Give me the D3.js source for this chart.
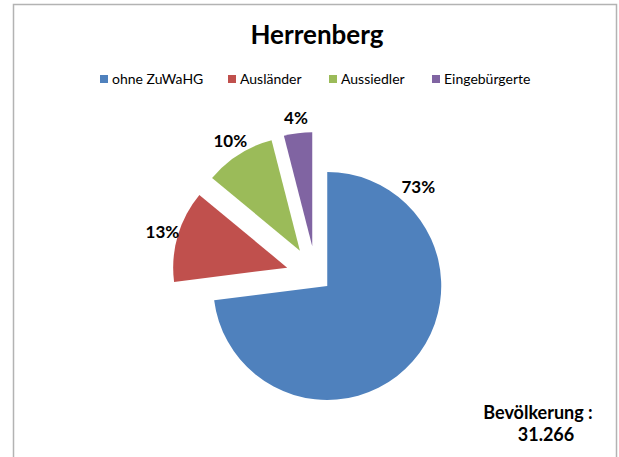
<!DOCTYPE html>
<html>
<head>
	<meta charset="utf-8">
	<script src="https://d3js.org/d3.v7.min.js"></script>
	<style>
		body { margin: 0; background: #fff; }
		text { font-family: Lato, "Open Sans", sans-serif; fill: #000; }
	</style>
</head>
<body>
<div id="chart"></div>
<script>
// Data
const categories = ["ohne ZuWaHG", "Ausländer", "Aussiedler", "Eingebürgerte"]
const shares = [73, 13, 10, 4]
const labels = ["73%", "13%", "10%", "4%"]
const colors = ["#4F81BD", "#C0504D", "#9BBB59", "#8064A2"]
const title = "Herrenberg"
const noteLines = ["Bevölkerung :", "31.266"]

function draw(el) {
  // Dimensions
  let dimensions = {
    width: 619,
    height: 457,
    cx: 316,
    cy: 276,
    radius: 114
  }

  const svg = d3.select(el)
    .append("svg")
    .attr("width", dimensions.width)
    .attr("height", dimensions.height)

  // frame
  svg.append("rect")
    .attr("x", 13.5)
    .attr("y", 4.5)
    .attr("width", 603)
    .attr("height", 470)
    .attr("fill", "none")
    .attr("stroke", "#B3B3B3")
    .attr("stroke-width", 1.5)

  svg.append("text")
    .attr("x", 317)
    .attr("y", 44)
    .attr("text-anchor", "middle")
    .style("font-size", "26px")
    .style("font-weight", "bold")
    .text(title)

  // Legend
  const legendX = [100, 228, 329, 432]
  const legend = svg.append("g")
  const items = legend.selectAll("g")
    .data(categories)
    .join("g")
    .attr("transform", (d, i) => `translate(${legendX[i]}, 75)`)
  items.append("rect")
    .attr("width", 8)
    .attr("height", 8)
    .attr("fill", (d, i) => colors[i])
  items.append("text")
    .attr("x", 12)
    .attr("y", 9)
    .style("font-size", "14px")
    .text(d => d)

  // Pie
  const pie = d3.pie().sort(null).value(d => d)
  const arcs = pie(shares)
  const arc = d3.arc().innerRadius(0).outerRadius(dimensions.radius)
  const explode = d => d.index === 0 ? 15 : 30
  const mid = d => (d.startAngle + d.endAngle) / 2

  const container = svg.append("g")
    .attr("transform", `translate(${dimensions.cx}, ${dimensions.cy})`)

  const offset = d => {
    const a = mid(d), e = explode(d)
    return [Math.sin(a) * e, -Math.cos(a) * e]
  }

  container.selectAll("path")
    .data(arcs)
    .join("path")
    .attr("d", arc)
    .attr("fill", (d, i) => colors[i])
    .attr("transform", d => `translate(${offset(d)})`)

  // labels (best fit: the big slice gets its label near its start)
  const labelAngle = d => d.value > 50 ? d.startAngle + 0.74 : mid(d)
  const labelR = d => d.value > 50 ? 135 : 130
  container.selectAll("text.lbl")
    .data(arcs)
    .join("text")
    .attr("class", "lbl")
    .attr("x", d => offset(d)[0] + Math.sin(labelAngle(d)) * labelR(d))
    .attr("y", d => offset(d)[1] - Math.cos(labelAngle(d)) * labelR(d))
    .attr("text-anchor", "middle")
    .attr("dominant-baseline", "central")
    .style("font-size", "17px")
    .style("font-weight", "bold")
    .text((d, i) => labels[i])

  // note
  svg.append("g").selectAll("text")
    .data(noteLines)
    .join("text")
    .attr("x", (d, i) => i === 0 ? 538 : 546)
    .attr("y", (d, i) => 419 + i * 22)
    .attr("text-anchor", "middle")
    .style("font-size", "18px")
    .style("font-weight", "bold")
    .text(d => d)
}

draw("#chart")
</script>
</body>
</html>
